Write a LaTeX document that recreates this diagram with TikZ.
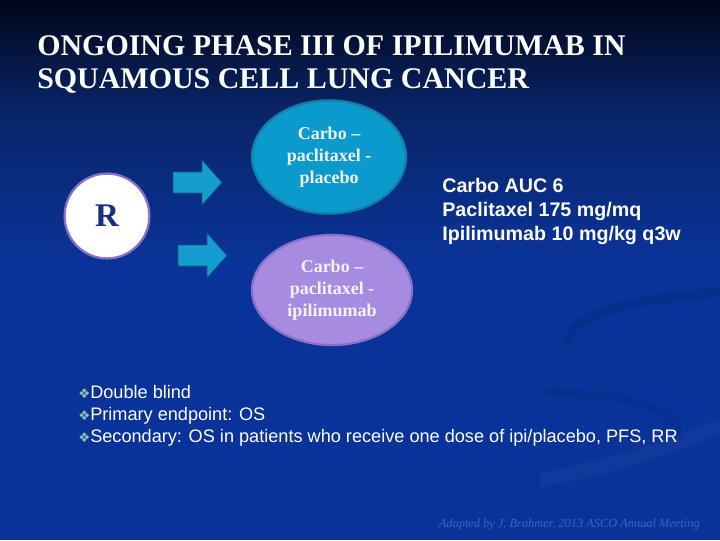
\documentclass[tikz,border=0pt]{standalone}
\usepackage{fontspec}
\setmainfont{Liberation Serif}
\setsansfont{Liberation Sans}
\newfontfamily\symbfont{DejaVu Sans}
\usetikzlibrary{shapes.geometric}

\definecolor{slidetop}{HTML}{01061A}
\definecolor{slidemid}{HTML}{082566}
\definecolor{slideblue}{HTML}{0A3399}
\definecolor{armteal}{HTML}{0A9ACB}
\definecolor{armtealdark}{HTML}{137FA6}
\definecolor{armlilac}{HTML}{A68BE0}
\definecolor{armlilacdark}{HTML}{8A70C8}
\definecolor{randnavy}{HTML}{17307E}
\definecolor{arrowteal}{HTML}{159DCF}
\definecolor{bulletgreen}{HTML}{8CC8A8}
\definecolor{footblue}{HTML}{2C6CC4}
\definecolor{paletext}{HTML}{F2F2FF}

\newcommand{\diamondbullet}{{\color{bulletgreen}\symbfont\fontsize{9.5pt}{9.5pt}\selectfont ❖}}

\begin{document}
\begin{tikzpicture}[
			x=0.025cm, y=-0.025cm,
			arm/.style={
				ellipse,
				line width=1.6pt,
				align=center,
				text=paletext,
				inner sep=0pt,
				font=\fontsize{12.8pt}{15.6pt}\selectfont\bfseries
			},
			blockarrow/.style={
				fill=arrowteal,
				draw=armtealdark!70!black,
				line width=0.6pt
			},
			bullettext/.style={
				anchor=base west,
				text=white,
				inner sep=0pt,
				font=\sffamily\fontsize{12.9pt}{15pt}\selectfont
			}
			]
			\useasboundingbox (0,0) rectangle (720,540);
			
			% fond
			\fill[slideblue] (0,0) rectangle (720,540);
			\shade[top color=slidetop, bottom color=slidemid] (0,0) rectangle (720,110);
			\shade[top color=slidemid, bottom color=slideblue] (0,110) rectangle (720,260);
			\draw[black, opacity=0.07, line width=7pt] (566,345) .. controls (575,305) and (650,300) .. (720,292);
			\draw[black, opacity=0.06, line width=6pt] (545,392) .. controls (620,392) and (690,410) .. (676,440);
			\draw[white, opacity=0.03, line width=10pt] (540,480) .. controls (600,470) and (680,445) .. (720,425);
			
			% titre
			\node[anchor=base west, text=white, inner sep=0pt,
				font=\bfseries\fontsize{21.3pt}{24pt}\selectfont] (title1) at (37,55)
				{ONGOING PHASE III OF IPILIMUMAB IN};
			\node[anchor=base west, text=white, inner sep=0pt,
				font=\bfseries\fontsize{21.3pt}{24pt}\selectfont] (title2) at (37,88)
				{SQUAMOUS CELL LUNG CANCER};
			
			% randomisation
			\node[circle, fill=white, draw=armlilacdark, line width=1.6pt,
				minimum size=2.12cm, inner sep=0pt, text=randnavy,
				font=\bfseries\fontsize{23.5pt}{26pt}\selectfont] (rand) at (107,216) {R};
			
			% bras
			\node[arm, fill=armteal, draw=armtealdark, minimum width=3.85cm,
				minimum height=2.83cm] (placebo) at (329,157) {Carbo --\\paclitaxel -\\placebo};
			\node[arm, fill=armlilac, draw=armlilacdark, minimum width=4.0cm,
				minimum height=2.75cm] (ipi) at (332,290) {Carbo --\\paclitaxel -\\ipilimumab};
			
			% fleches
			\foreach \ax/\ay in {173/160, 178/233}
				\filldraw[blockarrow] (\ax,\ay+12) -- ++(29,0) -- ++(0,-12) -- ++(20,22.5)
					-- ++(-20,22.5) -- ++(0,-12) -- ++(-29,0) -- cycle;
			
			% posologie
			\node[anchor=base west, align=left, text=white, inner sep=0pt,
				font=\sffamily\bfseries\fontsize{14pt}{17pt}\selectfont] (dose) at (442,240)
				{Carbo AUC 6\\Paclitaxel 175 mg/mq\\Ipilimumab 10 mg/kg q3w};
			
			% points
			\node[bullettext] (blind) at (78,398) {\diamondbullet Double blind};
			\node[bullettext] (primary) at (78,420) {\diamondbullet Primary endpoint: OS};
			\node[bullettext] (secondary) at (78,442) {\diamondbullet Secondary: OS in patients who receive one dose of ipi/placebo, PFS, RR};
			
			% source
			\node[anchor=base east, text=footblue, inner sep=0pt,
				font=\itshape\fontsize{8.8pt}{10pt}\selectfont] (source) at (700,527)
				{Adapted by J. Brahmer, 2013 ASCO Annual Meeting};
		\end{tikzpicture}
\end{document}
